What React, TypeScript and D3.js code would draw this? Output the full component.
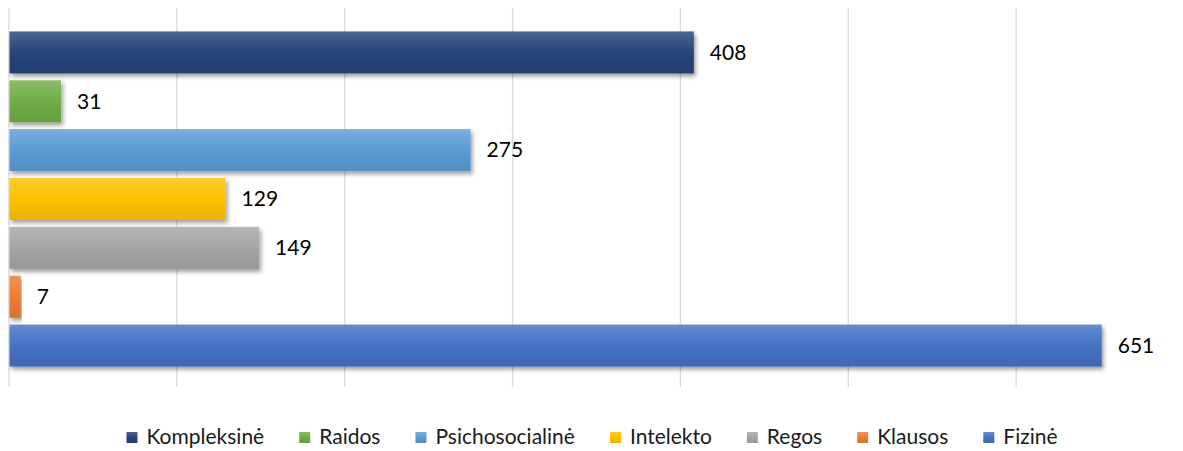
import React, { useEffect, useRef } from "react";
import * as d3 from "d3";

const categories = ["Kompleksinė", "Raidos", "Psichosocialinė", "Intelekto", "Regos", "Klausos", "Fizinė"];
const values = [408, 31, 275, 129, 149, 7, 651];
const colors = ["#264478", "#70AD47", "#5B9BD5", "#FFC000", "#A5A5A5", "#ED7D31", "#4472C4"];
const ticks = [0, 100, 200, 300, 400, 500, 600, 700];

const W = 1183, H = 451;
const FONT = "Lato, 'Open Sans', sans-serif";

export default function App() {
  const legendRef = useRef<SVGGElement>(null);

  const x = d3.scaleLinear().domain([0, 700]).range([9, 1184]);
  const y = d3.scaleBand<string>().domain(categories).range([28, 370]).paddingInner(0.14).paddingOuter(0.07);

  useEffect(() => {
    // lay the legend out by measured text widths, centred
    const g = d3.select(legendRef.current);
    g.selectAll("*").remove();
    const items = g.selectAll("g").data(categories).enter().append("g");
    items.append("rect").attr("width", 11).attr("height", 11).attr("y", -5)
      .attr("fill", (_d, i) => `url(#lg${i})`);
    items.append("text").text(d => d).attr("x", 20).attr("dy", "0.35em")
      .attr("font-family", FONT).attr("font-size", 21).attr("fill", "#1a1a1a");
    const widths: number[] = [];
    items.each(function () {
      const t = d3.select(this).select("text").node() as SVGTextElement;
      widths.push(20 + t.getComputedTextLength());
    });
    const gap = 35;
    const total = d3.sum(widths) + gap * (widths.length - 1);
    let cx = 122 + (1062 - 122 - total) / 2;
    items.attr("transform", (_d, i) => {
      const tx = cx;
      cx += widths[i] + gap;
      return `translate(${tx},437)`;
    });
  }, []);

  return (
    <svg width={W} height={H} style={{ position: "absolute", left: 0, top: 0, background: "#fff" }}>
      <defs>
        {colors.map((c, i) => (
          <linearGradient key={i} id={`lg${i}`} x1="0" y1="0" x2="0" y2="1">
            <stop offset="0" stopColor={d3.interpolateRgb(c, "#fff")(0.18)} />
            <stop offset="0.5" stopColor={c} />
            <stop offset="1" stopColor={d3.color(c)!.darker(0.25).formatHex()} />
          </linearGradient>
        ))}
        <filter id="shadow" x="-5%" y="-20%" width="115%" height="160%">
          <feDropShadow dx="2" dy="3" stdDeviation="2.2" floodColor="#000" floodOpacity="0.38" />
        </filter>
      </defs>
      {ticks.map(t => (
        <line key={t} x1={x(t)} x2={x(t)} y1={8} y2={387} stroke="#d9d9d9" strokeWidth={1.3} />
      ))}
      {categories.map((c, i) => (
        <g key={c}>
          <rect x={x(0) + 0.5} y={y(c)} width={x(values[i]) - x(0) - 0.5} height={y.bandwidth()}
            fill={`url(#lg${i})`} filter="url(#shadow)" />
          <text x={x(values[i]) + 16} y={y(c)! + y.bandwidth() / 2} dy="0.35em"
            fontFamily={FONT} fontSize={21} fill="#000">{values[i]}</text>
        </g>
      ))}
      <g ref={legendRef} />
    </svg>
  );
}
